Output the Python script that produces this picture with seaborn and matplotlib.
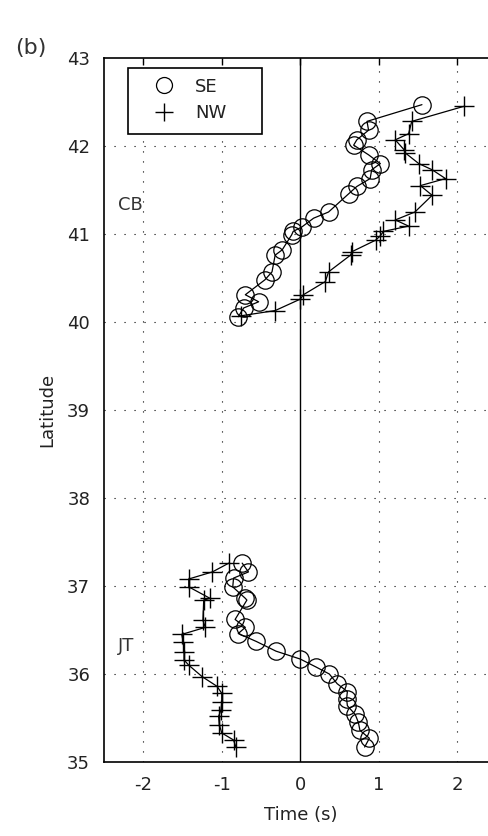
import numpy as np
import pandas as pd
import matplotlib
matplotlib.use("Agg")
import matplotlib.pyplot as plt
from matplotlib.lines import Line2D
from matplotlib.patches import Rectangle
import seaborn as sns

# Travel-time residuals (s) against latitude for two profiles
cb_se_time = [-0.79, -0.72, -0.53, -0.70, -0.45, -0.36, -0.32, -0.23, -0.11, -0.09, 0.02, 0.17,
              0.36, 0.62, 0.72, 0.89, 0.91, 1.02, 0.87, 0.68, 0.72, 0.87, 0.85, 1.55]
cb_se_lat = [40.06, 40.16, 40.23, 40.31, 40.48, 40.57, 40.76, 40.82, 40.99, 41.03, 41.08, 41.18,
             41.25, 41.46, 41.54, 41.63, 41.73, 41.80, 41.90, 42.01, 42.07, 42.18, 42.28, 42.47]
cb_nw_time = [-0.76, -0.32, 0.00, 0.04, 0.32, 0.36, 0.64, 0.66, 0.96, 1.02, 1.06, 1.38, 1.21,
              1.46, 1.68, 1.53, 1.85, 1.68, 1.51, 1.34, 1.32, 1.21, 1.38, 1.42, 2.08]
cb_nw_lat = [40.07, 40.13, 40.26, 40.31, 40.46, 40.57, 40.76, 40.80, 40.93, 40.98, 41.03, 41.09,
             41.16, 41.25, 41.44, 41.55, 41.63, 41.73, 41.80, 41.92, 41.96, 42.07, 42.14, 42.28, 42.45]

jt_se_time = [-0.74, -0.66, -0.85, -0.86, -0.70, -0.68, -0.83, -0.70, -0.79, -0.56, -0.31, 0.00,
              0.20, 0.37, 0.47, 0.60, 0.59, 0.60, 0.70, 0.74, 0.76, 0.88, 0.82]
jt_se_lat = [37.26, 37.16, 37.09, 36.99, 36.86, 36.84, 36.62, 36.53, 36.46, 36.37, 36.26, 36.17,
             36.08, 36.00, 35.89, 35.80, 35.72, 35.64, 35.54, 35.45, 35.36, 35.27, 35.17]
jt_nw_time = [-0.91, -1.12, -1.42, -1.42, -1.15, -1.23, -1.24, -1.21, -1.51, -1.49, -1.48, -1.48,
              -1.42, -1.25, -1.06, -1.00, -1.00, -1.01, -1.04, -1.03, -1.00, -0.85, -0.82]
jt_nw_lat = [37.26, 37.16, 37.08, 36.99, 36.86, 36.84, 36.61, 36.53, 36.45, 36.36, 36.25, 36.16,
             36.10, 35.97, 35.86, 35.78, 35.68, 35.59, 35.52, 35.42, 35.33, 35.25, 35.17]

x_ticks = [-2, -1, 0, 1, 2]
y_ticks = [35, 36, 37, 38, 39, 40, 41, 42, 43]

frames = []
for region, side, t, lat in [
    ("CB", "SE", cb_se_time, cb_se_lat),
    ("CB", "NW", cb_nw_time, cb_nw_lat),
    ("JT", "SE", jt_se_time, jt_se_lat),
    ("JT", "NW", jt_nw_time, jt_nw_lat),
]:
    frames.append(pd.DataFrame({"time": t, "lat": lat, "side": side, "region": region,
                                "seg": region + side}))
df = pd.concat(frames, ignore_index=True)

sns.set_style("white")
plt.rcParams["font.family"] = ["DejaVu Sans"]
plt.rcParams["xtick.direction"] = "in"
plt.rcParams["ytick.direction"] = "in"

FS = 13
TXT = "#222222"

fig = plt.figure(figsize=(4.89, 8.36), dpi=100)
ax = fig.add_axes([0.2127, 0.0885, 0.8027, 0.8421])

# vertical zero line
ax.axvline(0, color="black", lw=1.0, zorder=1)

for side, mk, ms, mew in [("SE", "o", 12.5, 0.9), ("NW", "+", 14, 1.0)]:
    sub = df[df["side"] == side]
    sns.lineplot(data=sub, x="time", y="lat", units="seg", estimator=None, sort=False,
                 color="black", lw=0.9, marker=mk, markersize=ms, markeredgewidth=mew,
                 markerfacecolor="none", markeredgecolor="black", legend=False, ax=ax, zorder=3)

ax.set_xlim(-2.5, 2.5)
ax.set_ylim(35, 43)
ax.set_xticks(x_ticks)
ax.set_yticks(y_ticks)
ax.set_xticklabels([str(v) for v in x_ticks], fontsize=FS, color=TXT)
ax.set_yticklabels([str(v) for v in y_ticks], fontsize=FS, color=TXT)
ax.tick_params(axis="both", which="major", length=5, width=1, color="black",
               top=True, right=True, pad=10)

# dotted grid, skipping the zero line
for xv in x_ticks:
    if xv != 0:
        ax.axvline(xv, color="black", lw=0.8, ls=(0, (1, 8)), zorder=0)
for yv in y_ticks[1:-1]:
    ax.axhline(yv, color="black", lw=0.8, ls=(0, (1, 8)), zorder=0)

for s in ax.spines.values():
    s.set_color("black")
    s.set_linewidth(1.2)

ax.set_xlabel("Time (s)", fontsize=FS, color=TXT, labelpad=9)
ax.set_ylabel("Latitude", fontsize=FS, color=TXT, labelpad=8)

ax.text(-2.32, 41.33, "CB", fontsize=FS, color="#333333", va="center", ha="left")
ax.text(-2.32, 36.32, "JT", fontsize=FS, color="#333333", va="center", ha="left")

# legend box with its entries
ax.add_patch(Rectangle((0.061, 0.892), 0.3415, 0.0938, transform=ax.transAxes,
                       facecolor="white", edgecolor="black", lw=1.2, zorder=5))
handles = [
    Line2D([], [], ls="none", marker="o", markersize=11.5, markerfacecolor="none",
           markeredgecolor="black", markeredgewidth=0.9),
    Line2D([], [], ls="none", marker="+", markersize=13, markeredgecolor="black",
           markeredgewidth=1.0),
]
leg = ax.legend(handles, ["SE", "NW"], loc="upper left", bbox_to_anchor=(0.13, 0.972),
                fontsize=FS, frameon=False, handlelength=1.0, handletextpad=1.2,
                borderpad=0, labelspacing=0.45, borderaxespad=0)
leg.set_zorder(6)
for t in leg.get_texts():
    t.set_color(TXT)

fig.text(0.03, 0.943, "(b)", fontsize=16, color="#333333", ha="left", va="center")

fig.savefig("out.png", dpi=100)
